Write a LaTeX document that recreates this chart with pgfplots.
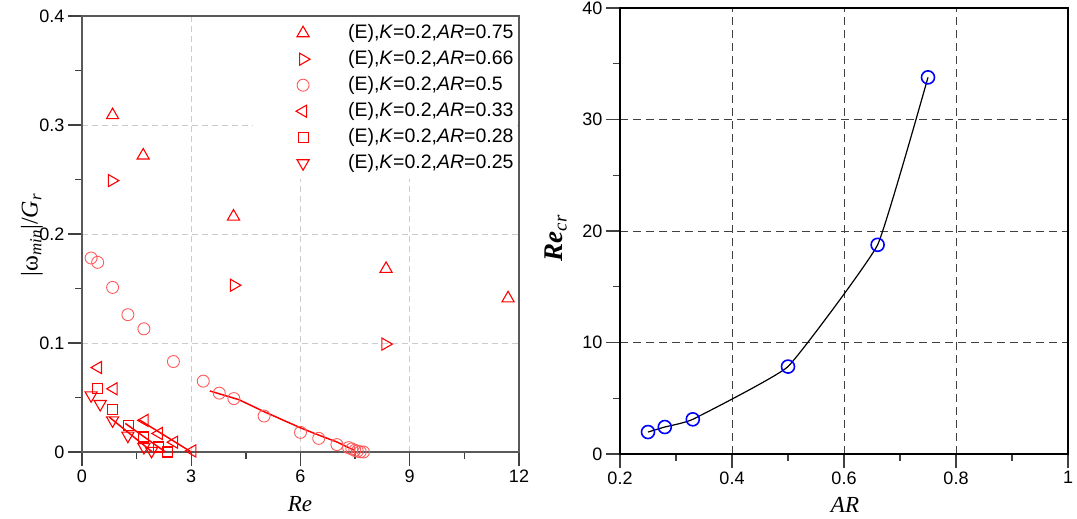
\documentclass[border=0pt]{standalone}
\usepackage{pgfplots}
\pgfplotsset{compat=1.18}
\usepackage{fontspec}
\setmainfont{Liberation Sans}
\newfontfamily\tnr{Liberation Serif}
\definecolor{lred}{RGB}{255,0,0}
\definecolor{cred}{RGB}{255,90,90}
\begin{document}
\begin{tikzpicture}[x=1pt,y=1pt]
\path[use as bounding box] (0,0) rectangle (1077,-519);
\begin{axis}[
  at={(82pt,-452pt)}, anchor=south west,
  width=437pt, height=436pt, scale only axis,
  xmin=0, xmax=12, ymin=0, ymax=0.4,
  xtick={0,3,6,9,12}, ytick={0,0.1,0.2,0.3,0.4},
  minor x tick num=1, minor y tick num=1,
  tick align=outside, tick pos=left,
  major tick length=14pt, minor tick length=7pt,
  grid=major,
  major grid style={draw=black!20, line width=0.8pt, dash pattern=on 6pt off 4pt},
  axis line style={draw=black!65, line width=1.4pt},
  every tick/.style={draw=black!75, line width=1.4pt},
  ticklabel style={font=\fontsize{18}{21}\selectfont},
  /pgf/number format/assume math mode=true,
  yticklabel style={/pgf/number format/fixed},
  clip=false,
  legend cell align=left,
  legend image code/.code={\path[draw=none,fill=none] (-50pt,-6pt) rectangle (22pt,6pt); \draw[#1] plot coordinates {(0pt,0pt)};},
  legend style={at={(0.391,1)}, anchor=north west, yshift=-1pt, draw=none, fill=white,
    inner xsep=0pt, inner ysep=3pt, column sep=20pt, row sep=0pt,
    font=\fontsize{19.5}{22}\selectfont,
    nodes={inner xsep=3pt, inner ysep=4pt, text height=14pt, text depth=4pt}},
]
\addplot[only marks, lred, mark=triangle, mark size=7pt, mark options={line width=1.1pt}] coordinates {
(0.84,0.309)(1.68,0.272)(4.16,0.216)(8.35,0.168)(11.7,0.141)};
\addlegendentry{(E),\textit{K}=0.2,\textit{AR}=0.75}
\addplot[only marks, lred, mark=triangle, mark size=7pt, mark options={line width=1.1pt, rotate=-90}] coordinates {
(0.82,0.249)(4.17,0.153)(8.33,0.099)};
\addlegendentry{(E),\textit{K}=0.2,\textit{AR}=0.66}
\addplot[only marks, cred, mark=o, mark size=6pt, mark options={line width=0.9pt}] coordinates {
(0.25,0.178)(0.43,0.174)(0.84,0.151)(1.26,0.126)(1.70,0.113)(2.51,0.083)(3.33,0.065)(3.77,0.054)(4.17,0.049)(5.0,0.033)(6.0,0.018)(6.5,0.0125)(7.0,0.0068)(7.32,0.004)(7.41,0.0028)(7.49,0.0015)(7.56,0.0008)(7.64,0.0002)(7.73,0)};
\addlegendentry{(E),\textit{K}=0.2,\textit{AR}=0.5}
\addplot[only marks, lred, mark=triangle, mark size=7pt, mark options={line width=1.1pt, rotate=90}] coordinates {
(0.44,0.0775)(0.87,0.058)(1.72,0.029)(2.11,0.017)(2.53,0.009)(3.03,0.001)};
\addlegendentry{(E),\textit{K}=0.2,\textit{AR}=0.33}
\addplot[only marks, lred, mark=square, mark size=5pt, mark options={line width=1.1pt}] coordinates {
(0.43,0.058)(0.84,0.039)(1.27,0.0246)(1.68,0.0138)(2.09,0.0046)(2.34,0.0)};
\addlegendentry{(E),\textit{K}=0.2,\textit{AR}=0.28}
\addplot[only marks, lred, mark=triangle, mark size=7pt, mark options={line width=1.1pt, rotate=180}] coordinates {
(0.25,0.052)(0.5,0.044)(0.84,0.029)(1.26,0.015)(1.70,0.0046)(1.91,0.001)};
\addlegendentry{(E),\textit{K}=0.2,\textit{AR}=0.25}
\addplot[lred, line width=1.5pt, forget plot] coordinates {(3.51,0.056)(4.31,0.048)(5.0,0.037)(6.0,0.0222)(6.5,0.0155)(7.0,0.0092)(7.5,0.0012)};
\addplot[lred, line width=1.5pt, forget plot] coordinates {(1.55,0.030)(3.0,0)};
\addplot[lred, line width=1.5pt, forget plot] coordinates {(1.19,0.0262)(2.29,0)};
\addplot[lred, line width=1.5pt, forget plot] coordinates {(0.75,0.032)(1.93,0)};
\end{axis}
\begin{axis}[
  at={(620pt,-454pt)}, anchor=south west,
  width=448pt, height=446pt, scale only axis,
  xmin=0.2, xmax=1, ymin=0, ymax=40,
  xtick={0.2,0.4,0.6,0.8,1}, ytick={0,10,20,30,40},
  minor x tick num=1, minor y tick num=1,
  tick align=outside, tick pos=left,
  major tick length=14pt, minor tick length=7pt,
  grid=major,
  major grid style={draw=black!75, line width=1pt, dash pattern=on 8pt off 5pt},
  axis line style={draw=black, line width=1.2pt},
  every tick/.style={draw=black!75, line width=1.2pt},
  ticklabel style={font=\fontsize{18}{21}\selectfont},
  /pgf/number format/assume math mode=true,
  clip=false,
]
\addplot[black, line width=1.2pt, smooth, tension=0.2] coordinates {
(0.25,1.97)(0.28,2.42)(0.33,3.11)(0.5,7.84)(0.66,18.76)(0.75,33.78)};
\addplot[only marks, blue, mark=o, mark size=6.5pt, mark options={line width=1.6pt}] coordinates {
(0.25,1.97)(0.28,2.42)(0.33,3.11)(0.5,7.84)(0.66,18.76)(0.75,33.78)};
\end{axis}
\node[rotate=90, font=\tnr\fontsize{24}{28}\selectfont] at (32,-235) {|ω\textsubscript{\itshape min}|/\textit{G}\textsubscript{\itshape r}};
\node[font=\tnr\itshape\fontsize{23}{25}\selectfont] at (300,-504) {Re};
\node[font=\tnr\itshape\fontsize{23}{25}\selectfont] at (845,-505) {AR};
\node[rotate=90, font=\tnr\bfseries\itshape\fontsize{27}{30}\selectfont] at (556,-238) {Re\textsubscript{\mdseries cr}};
\end{tikzpicture}
\end{document}
